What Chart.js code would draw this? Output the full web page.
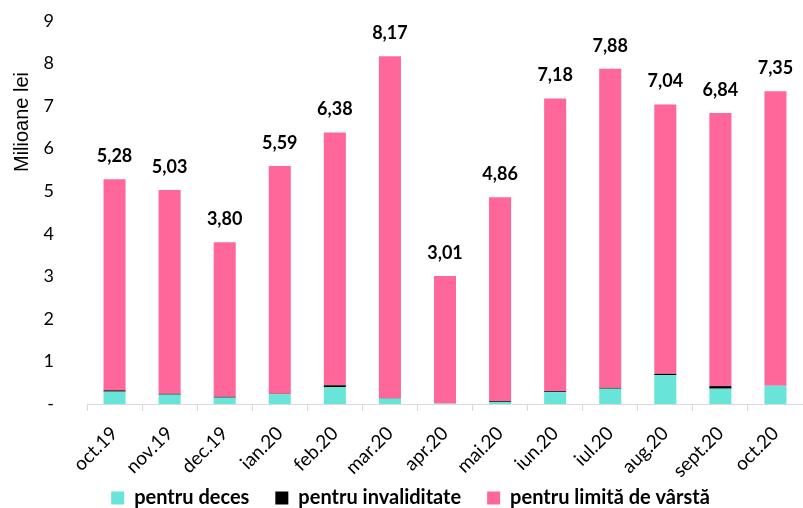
<!DOCTYPE html>
<html>
<head>
<meta charset="utf-8">
<script src="https://cdn.jsdelivr.net/npm/chart.js@4"></script>
<style>
  html, body { margin:0; padding:0; background:#fff; }
  #wrap { width:803px; height:508px; position:relative; }
</style>
</head>
<body>
<div id="wrap"><canvas id="c" width="803" height="508"></canvas></div>
<script>
// categories and values (milioane lei)
const months        = ["oct.19","nov.19","dec.19","ian.20","feb.20","mar.20","apr.20","mai.20","iun.20","iul.20","aug.20","sept.20","oct.20"];
const totals        = [5.28, 5.03, 3.80, 5.59, 6.38, 8.17, 3.01, 4.86, 7.18, 7.88, 7.04, 6.84, 7.35];
const deces         = [0.29, 0.22, 0.15, 0.23, 0.40, 0.13, 0.01, 0.05, 0.28, 0.36, 0.68, 0.36, 0.43];
const invaliditate  = [0.03, 0.02, 0.02, 0.01, 0.04, 0.01, 0.00, 0.02, 0.02, 0.02, 0.03, 0.06, 0.00];
const limitaVarsta  = totals.map((t, i) => +(t - deces[i] - invaliditate[i]).toFixed(2));
const yTicks        = [0,1,2,3,4,5,6,7,8,9];
const yTitle        = "Milioane lei";

const FONT = "Lato, 'Open Sans', sans-serif";

// totals above each stacked bar
const totalLabels = {
  id: "totalLabels",
  afterDatasetsDraw(chart) {
    const ctx = chart.ctx;
    const meta = chart.getDatasetMeta(2);
    ctx.save();
    ctx.font = "bold 18px " + FONT;
    ctx.fillStyle = "#000";
    ctx.textAlign = "center";
    ctx.textBaseline = "alphabetic";
    meta.data.forEach((bar, i) => {
      ctx.fillText(totals[i].toFixed(2).replace(".", ","), bar.x, bar.y - 17);
    });
    ctx.restore();
  }
};

// y title sits high on the axis, not centred -> draw it ourselves
const axisTitle = {
  id: "axisTitle",
  afterDraw(chart) {
    const ctx = chart.ctx;
    ctx.save();
    ctx.translate(22, 122);
    ctx.rotate(-Math.PI / 2);
    ctx.font = "20px 'Liberation Sans', Arial, sans-serif";
    ctx.fillStyle = "#000";
    ctx.textAlign = "center";
    ctx.textBaseline = "middle";
    ctx.fillText(yTitle, 0, 0);
    ctx.restore();
  }
};

// legend: wide gaps between items, but only a short strip at the bottom
const LEGEND_H = 30, LEGEND_PAD = 26, LEGEND_ROW_Y = 488;
const compactLegend = {
  id: "compactLegend",
  afterInit(chart) {
    const lg = chart.legend;
    const fit = lg.fit;
    lg.fit = function () { fit.call(this); this.height = LEGEND_H; };
  },
  afterLayout(chart) {
    const lg = chart.legend;
    lg.top = LEGEND_ROW_Y - LEGEND_PAD;
    lg.bottom = chart.height;
    lg.height = lg.bottom - lg.top;
  }
};

new Chart(document.getElementById("c"), {
  type: "bar",
  data: {
    labels: months,
    datasets: [
      { label:"pentru deces",            data:deces,        backgroundColor:"#68E4D8" },
      { label:"pentru invaliditate",     data:invaliditate, backgroundColor:"#000000" },
      { label:"pentru limită de vârstă", data:limitaVarsta, backgroundColor:"#FF6699" },
    ],
  },
  options: {
    responsive:false, animation:false,
    layout:{ padding:{ left:12, right:-6, top:21, bottom:0 } },
    datasets:{ bar:{ barPercentage:0.4, categoryPercentage:1.0 } },
    plugins:{
      legend:{
        position:"bottom",
        labels:{ color:"#000", boxWidth:13, boxHeight:13, padding:LEGEND_PAD,
                 font:{ family:FONT, size:20, weight:"bold" } },
      },
      tooltip:{ enabled:false },
    },
    scales:{
      x:{
        stacked:true,
        afterFit: s => { s.height = 508 - LEGEND_H - 404; s.paddingLeft = 0; s.paddingRight = -6; },
        grid:{ display:true, drawOnChartArea:false, offset:true, color:"#d9d9d9", tickLength:7 },
        border:{ color:"#d9d9d9" },
        ticks:{ color:"#000", maxRotation:45, minRotation:45, padding:11, font:{ family:FONT, size:19 } },
      },
      y:{
        stacked:true, min:0, max:9,
        afterBuildTicks: axis => { axis.ticks = yTicks.map(v => ({ value:v })); },
        afterFit: s => { s.width = 75; s.paddingTop = 0; s.paddingBottom = 0; },
        grid:{ display:false },
        border:{ display:false },
        title:{ display:false },
        ticks:{ color:"#000", padding:25, font:{ family:FONT, size:18 },
                callback: v => v === 0 ? "-" : String(v) },
      },
    },
  },
  plugins:[totalLabels, axisTitle, compactLegend],
});
</script>
</body>
</html>
